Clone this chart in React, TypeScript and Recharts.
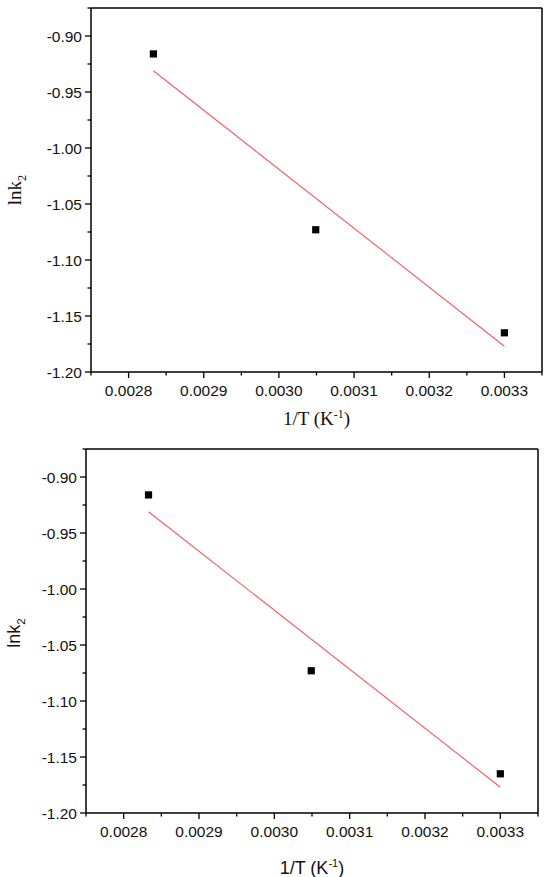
import React from 'react'
import { ComposedChart, Scatter, Line, XAxis, YAxis, Label, ReferenceLine } from 'recharts'

// values (both panels show the same data)
const invT = [0.002833, 0.003049, 0.0033]
const lnk2 = [-0.916, -1.073, -1.165]
const fitX = [0.002833, 0.0033]
const fitY = [-0.931, -1.177]

const xMajorTicks = [0.0028, 0.0029, 0.003, 0.0031, 0.0032, 0.0033]
const xMinorTicks = [0.00275, 0.00285, 0.00295, 0.00305, 0.00315, 0.00325, 0.00335]
const yMajorTicks = [-1.2, -1.15, -1.1, -1.05, -1.0, -0.95, -0.9]
const yMinorTicks = [-1.175, -1.125, -1.075, -1.025, -0.975, -0.925, -0.875]

const xDomain: [number, number] = [0.00275, 0.00335]
const yDomain: [number, number] = [-1.2, -0.875]

const points = invT.map((x, i) => ({ x, y: lnk2[i] }))
const fitLine = fitX.map((x, i) => ({ x, fit: fitY[i] }))

const TICK_FONT = '"Liberation Sans", Arial, sans-serif'
const INK = '#111'
const TICK_SIZE = 15.5

const XTick = (props: any) => {
  const { x, y, payload } = props
  const v = payload.value
  const major = xMajorTicks.includes(v)
  return (
    <g>
      <line x1={x} x2={x} y1={y} y2={y + (major ? 6 : 3.5)} stroke="#000" strokeWidth={1.3} />
      {major && (
        <text x={x} y={y + 24} textAnchor="middle" fontSize={TICK_SIZE} fontFamily={TICK_FONT} fill={INK}>
          {v.toFixed(4)}
        </text>
      )}
    </g>
  )
}

const YTick = (props: any) => {
  const { x, y, payload } = props
  const v = payload.value
  const major = yMajorTicks.includes(v)
  return (
    <g>
      <line x1={x} x2={x - (major ? 6 : 3.5)} y1={y} y2={y} stroke="#000" strokeWidth={1.3} />
      {major && (
        <text x={x - 9} y={y + 5.5} textAnchor="end" fontSize={TICK_SIZE} fontFamily={TICK_FONT} fill={INK}>
          {v.toFixed(2)}
        </text>
      )}
    </g>
  )
}

const Square = (props: any) => {
  const { cx, cy } = props
  if (cx == null || cy == null) return null
  return <rect x={cx - 3.6} y={cy - 3.6} width={7.2} height={7.2} fill="#000" />
}

interface PanelProps {
  width: number
  height: number
  margin: { top: number; right: number; left: number; bottom: number }
  yAxisWidth: number
  xAxisHeight: number
  titleFont: string
  titleSize: number
  xTitleDy: number
  yTitleX: number
  yTitleDy: number
}

function Panel(p: PanelProps) {
  const XTitle = (props: any) => {
    const vb = props.viewBox || {}
    const cx = vb.x + vb.width / 2
    const by = vb.y + p.xTitleDy
    return (
      <text x={cx} y={by} textAnchor="middle" fontSize={p.titleSize} fontFamily={p.titleFont} fill={INK}>
        1/T (K<tspan dy={-7} fontSize={p.titleSize * 0.62}>-1</tspan>
        <tspan dy={7}>)</tspan>
      </text>
    )
  }
  const YTitle = (props: any) => {
    const vb = props.viewBox || {}
    const cy = vb.y + vb.height / 2 + p.yTitleDy
    const cx = p.yTitleX
    return (
      <text
        x={cx}
        y={cy}
        transform={`rotate(-90, ${cx}, ${cy})`}
        textAnchor="middle"
        fontSize={p.titleSize}
        fontFamily={p.titleFont}
        fill={INK}
      >
        lnk<tspan dy={5} fontSize={p.titleSize * 0.65}>2</tspan>
      </text>
    )
  }

  return (
    <ComposedChart width={p.width} height={p.height} margin={p.margin}>
      <XAxis
        type="number"
        dataKey="x"
        domain={xDomain}
        allowDataOverflow
        ticks={[...xMinorTicks, ...xMajorTicks].sort((a, b) => a - b)}
        interval={0}
        tick={<XTick />}
        tickLine={false}
        tickSize={0}
        tickMargin={0}
        height={p.xAxisHeight}
        axisLine={{ stroke: '#000', strokeWidth: 1.5 }}
      >
        <Label content={<XTitle />} />
      </XAxis>
      <YAxis
        type="number"
        domain={yDomain}
        allowDataOverflow
        ticks={[...yMinorTicks, ...yMajorTicks].sort((a, b) => a - b)}
        interval={0}
        tick={<YTick />}
        tickLine={false}
        tickSize={0}
        tickMargin={0}
        width={p.yAxisWidth}
        axisLine={{ stroke: '#000', strokeWidth: 1.5 }}
      >
        <Label content={<YTitle />} />
      </YAxis>
      {/* box frame: top and right edges */}
      <ReferenceLine y={yDomain[1]} stroke="#000" strokeWidth={1.5} ifOverflow="visible" />
      <ReferenceLine x={xDomain[1]} stroke="#000" strokeWidth={1.5} ifOverflow="visible" />
      <Line
        data={fitLine}
        dataKey="fit"
        type="linear"
        stroke="#f25c5c"
        strokeWidth={1.1}
        dot={false}
        activeDot={false}
        isAnimationActive={false}
      />
      <Scatter data={points} dataKey="y" shape={<Square />} isAnimationActive={false} />
    </ComposedChart>
  )
}

export default function App() {
  return (
    <div style={{ position: 'absolute', top: 0, left: 0, width: 550, height: 877, background: '#fff' }}>
      <Panel
        width={550}
        height={438}
        margin={{ top: 8, right: 8, left: 0, bottom: 0 }}
        yAxisWidth={91}
        xAxisHeight={66}
        titleFont='"Liberation Serif", "Times New Roman", serif'
        titleSize={19}
        xTitleDy={53}
        yTitleX={21}
        yTitleDy={0}
      />
      <Panel
        width={550}
        height={439}
        margin={{ top: 11, right: 12, left: 0, bottom: 0 }}
        yAxisWidth={86}
        xAxisHeight={64}
        titleFont={TICK_FONT}
        titleSize={18}
        xTitleDy={61}
        yTitleX={20}
        yTitleDy={2}
      />
    </div>
  )
}
